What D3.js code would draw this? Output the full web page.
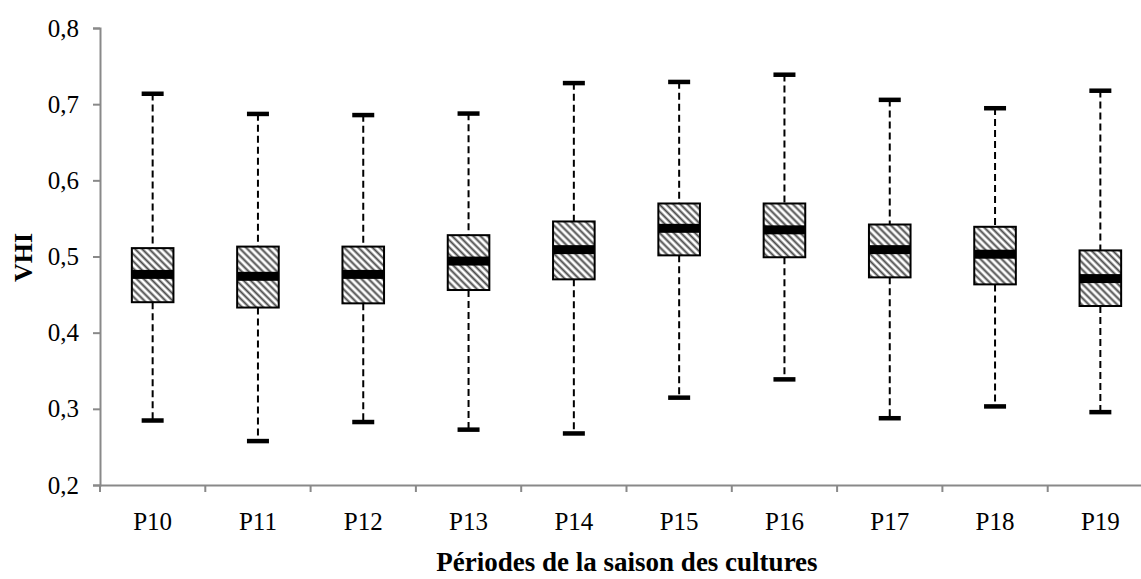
<!DOCTYPE html>
<html>
<head>
<meta charset="utf-8">
<script src="https://cdn.jsdelivr.net/npm/d3@7"></script>
<style>
  body { margin: 0; background: #fff; }
  text { font-family: "Liberation Serif", "Times New Roman", serif; }
</style>
</head>
<body>
<div id="chart"></div>
<script>
var periods = ["P10", "P11", "P12", "P13", "P14", "P15", "P16", "P17", "P18", "P19"];
var whiskerLow = [0.285, 0.258, 0.283, 0.273, 0.268, 0.315, 0.339, 0.288, 0.3035, 0.296];
var q1 = [0.440, 0.433, 0.4385, 0.456, 0.470, 0.5015, 0.499, 0.4726, 0.4634, 0.435];
var medians = [0.4765, 0.474, 0.4765, 0.494, 0.509, 0.537, 0.535, 0.509, 0.503, 0.471];
var q3 = [0.511, 0.513, 0.513, 0.528, 0.546, 0.5696, 0.5696, 0.542, 0.539, 0.508];
var whiskerHigh = [0.714, 0.6875, 0.686, 0.688, 0.728, 0.7295, 0.739, 0.706, 0.695, 0.718];
var yTicks = [0.2, 0.3, 0.4, 0.5, 0.6, 0.7, 0.8];

var svgWidth = 1141, svgHeight = 579;
var plotLeft = 100, plotRight = 1153, plotTop = 28, plotBottom = 485;

var rows = periods.map(function(p, i) {
  return { name: p, lo: whiskerLow[i], q1: q1[i], med: medians[i], q3: q3[i], hi: whiskerHigh[i] };
});

var svg = d3.select("#chart").append("svg")
  .attr("width", svgWidth)
  .attr("height", svgHeight);

// hatch pattern for the boxes
var defs = svg.append("defs");
defs.append("pattern")
  .attr("id", "hatch")
  .attr("patternUnits", "userSpaceOnUse")
  .attr("width", 5)
  .attr("height", 5)
  .attr("patternTransform", "rotate(-45)")
  .call(function(p) {
    p.append("rect").attr("width", 5).attr("height", 5).attr("fill", "#fff");
    p.append("line").attr("x1", 1.5).attr("y1", 0).attr("x2", 1.5).attr("y2", 5)
      .attr("stroke", "#4a4a4a").attr("stroke-width", 2);
  });

var x = d3.scaleBand()
  .domain(periods)
  .range([plotLeft, plotRight]);

var y = d3.scaleLinear()
  .domain([0.2, 0.8])
  .range([plotBottom, plotTop]);

var fmt = function(d) { return d3.format(".1f")(d).replace(".", ","); };

// y axis
var yAxis = svg.append("g")
  .attr("transform", `translate(${plotLeft},0)`)
  .call(d3.axisLeft(y).tickValues(yTicks).tickFormat(fmt).tickSize(7).tickPadding(14));

// x axis
var xAxis = svg.append("g")
  .attr("transform", `translate(0,${plotBottom})`)
  .call(d3.axisBottom(x).tickSize(0).tickPadding(27));

// category boundary ticks
svg.append("g").selectAll("line")
  .data(periods)
  .enter()
  .append("line")
  .attr("x1", d => x(d))
  .attr("x2", d => x(d))
  .attr("y1", plotBottom)
  .attr("y2", plotBottom + 7)
  .attr("stroke", "#898989")
  .attr("stroke-width", 2);

[yAxis, xAxis].forEach(function(g) {
  g.select(".domain").attr("stroke", "#898989").attr("stroke-width", 2);
  g.selectAll(".tick line").attr("stroke", "#898989").attr("stroke-width", 2);
  g.selectAll(".tick text")
    .attr("fill", "#000")
    .style("font-size", "25px")
    .style("font-family", "Liberation Serif");
});

var boxW = x.bandwidth() * 0.395;
var capW = 22;

var boxes = svg.append("g").selectAll("g")
  .data(rows)
  .enter()
  .append("g")
  .attr("transform", d => `translate(${x(d.name) + x.bandwidth() / 2},0)`);

// whiskers
boxes.append("line")
  .attr("x1", 0).attr("x2", 0)
  .attr("y1", d => y(d.hi)).attr("y2", d => y(d.q3))
  .attr("stroke", "#000").attr("stroke-width", 2).attr("stroke-dasharray", "7,4");
boxes.append("line")
  .attr("x1", 0).attr("x2", 0)
  .attr("y1", d => y(d.q1)).attr("y2", d => y(d.lo))
  .attr("stroke", "#000").attr("stroke-width", 2).attr("stroke-dasharray", "7,4");

// caps
boxes.append("rect")
  .attr("x", -capW / 2).attr("width", capW)
  .attr("y", d => y(d.hi) - 2).attr("height", 4.5)
  .attr("fill", "#000");
boxes.append("rect")
  .attr("x", -capW / 2).attr("width", capW)
  .attr("y", d => y(d.lo) - 2).attr("height", 4.5)
  .attr("fill", "#000");

// box
boxes.append("rect")
  .attr("x", -boxW / 2).attr("width", boxW)
  .attr("y", d => y(d.q3))
  .attr("height", d => y(d.q1) - y(d.q3))
  .attr("fill", "url(#hatch)")
  .attr("stroke", "#000")
  .attr("stroke-width", 2);

// median band
boxes.append("rect")
  .attr("x", -boxW / 2).attr("width", boxW)
  .attr("y", d => y(d.med) - 4.5)
  .attr("height", 9)
  .attr("fill", "#000");

// axis titles
svg.append("text")
  .attr("transform", `translate(32,${(plotTop + plotBottom) / 2 + 1}) rotate(-90)`)
  .attr("text-anchor", "middle")
  .style("font-size", "26px")
  .style("font-weight", "bold")
  .text("VHI");

svg.append("text")
  .attr("x", 627)
  .attr("y", 571)
  .attr("text-anchor", "middle")
  .style("font-size", "27px")
  .style("font-weight", "bold")
  .text("Périodes de la saison des cultures");
</script>
</body>
</html>
